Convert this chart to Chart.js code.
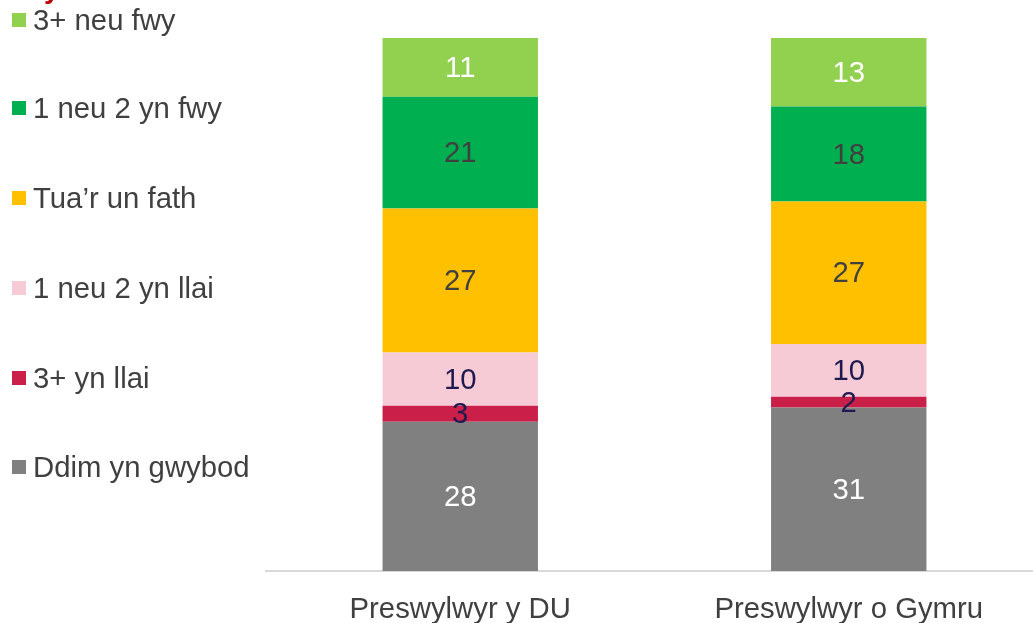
<!DOCTYPE html>
<html>
<head>
<meta charset="utf-8">
<script src="https://cdn.jsdelivr.net/npm/chart.js@4"></script>
<style>
  html, body { margin: 0; padding: 0; background: #fff; overflow: hidden; width: 1033px; height: 623px; }
  #wrap { position: absolute; left: 0; top: 0; width: 1043px; height: 623px; }
  #legend { position: absolute; left: 0; top: 0; font-family: "Liberation Sans", Arial, sans-serif; font-size: 29.3px; color: #404040; }
  .item { position: absolute; left: 12px; white-space: nowrap; display: flex; align-items: center; height: 34px; }
  .sw { width: 14px; height: 14px; margin-right: 7px; }
  #titleTip { position: absolute; left: 44px; top: -25px; font: bold 28px "Liberation Sans", Arial, sans-serif; line-height: 28px; color: #C00000; }
</style>
</head>
<body>
<div id="wrap"><canvas id="c" width="1043" height="623"></canvas></div>
<div id="titleTip">y</div>
<div id="legend"></div>
<script>
const categories = ["Preswylwyr y DU", "Preswylwyr o Gymru"];
const seriesNames = ["Ddim yn gwybod", "3+ yn llai", "1 neu 2 yn llai", "Tua\u2019r un fath", "1 neu 2 yn fwy", "3+ neu fwy"];
const ddimYnGwybod = [28, 31];
const triYnLlai = [3, 2];
const unNeuDdauYnLlai = [10, 10];
const tuaRUnFath = [27, 27];
const unNeuDdauYnFwy = [21, 18];
const triNeuFwy = [11, 13];
const seriesColors = ["#808080", "#C91F48", "#F7CBD5", "#FFC000", "#00B050", "#92D050"];
const labelColors = ["#FFFFFF", "#1E1A4F", "#1E1A4F", "#404040", "#404040", "#FFFFFF"];

const seriesValues = [ddimYnGwybod, triYnLlai, unNeuDdauYnLlai, tuaRUnFath, unNeuDdauYnFwy, triNeuFwy];
// 100% stacked: each column normalised to its own total
const totals = categories.map((_, i) => seriesValues.reduce((s, arr) => s + arr[i], 0));

const datasets = seriesValues.map((vals, k) => ({
  label: seriesNames[k],
  data: vals.map((v, i) => v / totals[i] * 100),
  raw: vals,
  backgroundColor: seriesColors[k],
  borderWidth: 0,
  barPercentage: 0.4,
  categoryPercentage: 1.0,
  labelColor: labelColors[k]
}));

// HTML legend (top item = last series)
const legend = document.getElementById('legend');
const legendTops = [20, 108, 198, 288, 378, 467];
for (let j = 0; j < seriesNames.length; j++) {
  const k = seriesNames.length - 1 - j;
  const d = document.createElement('div');
  d.className = 'item';
  d.style.top = (legendTops[j] - 17) + 'px';
  d.innerHTML = '<span class="sw" style="background:' + seriesColors[k] + '"></span><span>' + seriesNames[k] + '</span>';
  legend.appendChild(d);
}

const valueLabels = {
  id: 'valueLabels',
  afterDatasetsDraw(chart) {
    const ctx = chart.ctx;
    ctx.save();
    ctx.font = '29.3px "Liberation Sans", Arial, sans-serif';
    ctx.textAlign = 'center';
    ctx.textBaseline = 'middle';
    chart.data.datasets.forEach((ds, di) => {
      const meta = chart.getDatasetMeta(di);
      meta.data.forEach((el, i) => {
        const p = el.getProps(['x', 'y', 'base'], true);
        ctx.fillStyle = ds.labelColor;
        ctx.fillText(String(ds.raw[i]), p.x, (p.y + p.base) / 2 + 1.5);
      });
    });
    ctx.restore();
  }
};

new Chart(document.getElementById('c'), {
  type: 'bar',
  data: { labels: categories, datasets: datasets },
  options: {
    responsive: false,
    animation: false,
    layout: { padding: { left: 266, top: 38, right: 0, bottom: 0 } },
    plugins: { legend: { display: false }, tooltip: { enabled: false } },
    scales: {
      x: {
        stacked: true,
        grid: { display: false, drawTicks: false },
        border: { display: true, color: '#D9D9D9', width: 2 },
        ticks: { color: '#404040', padding: 21, font: { family: '"Liberation Sans", Arial, sans-serif', size: 29.3 } },
        afterFit(scale) { scale.height = 52; }
      },
      y: { stacked: true, display: false, min: 0, max: 100 }
    }
  },
  plugins: [valueLabels]
});
</script>
</body>
</html>
